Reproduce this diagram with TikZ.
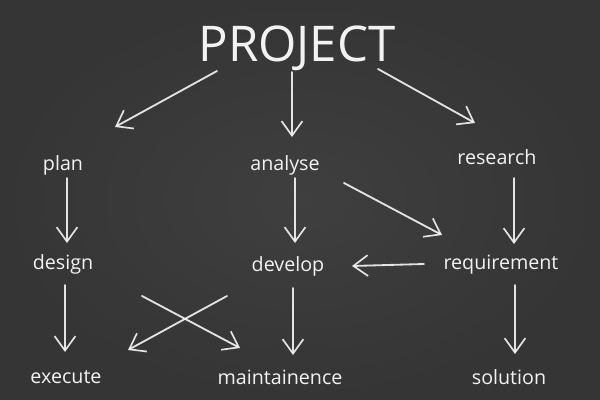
\documentclass[tikz,border=0pt]{standalone}
\usepackage{fontspec}
\setmainfont{Open Sans}
\usetikzlibrary{calc,arrows.meta}
\definecolor{board}{HTML}{3F3F3F}
\definecolor{boardedge}{HTML}{353535}
\definecolor{chalk}{HTML}{F2F2F2}
\tikzset{chalk arrow/.style={draw=chalk,opacity=.92,line width=1.3pt,line cap=round,
    -{Straight Barb[length=3.6mm,width=5.2mm,line width=1.2pt]}},
  title label/.style={text=chalk,anchor=base,inner sep=0pt,font=\fontsize{35}{40}\selectfont},
  word label/.style={text=chalk,anchor=base,inner sep=0pt,font=\fontsize{14}{17}\selectfont}}

\begin{document}
\begin{tikzpicture}[x=0.025cm,y=-0.025cm]
			\useasboundingbox (0,0) rectangle (600,400);
			\shade[inner color=board,outer color=boardedge] (0,0) rectangle (600,400);
			% words
			\node[title label] (project) at (297,62) {PROJECT};
			\node[word label] (plan) at (63,171) {plan};
			\node[word label] (analyse) at (285,171) {analyse};
			\node[word label] (research) at (497,165) {research};
			\node[word label] (design) at (63,270) {design};
			\node[word label] (develop) at (288,272) {develop};
			\node[word label] (requirement) at (501,270) {requirement};
			\node[word label] (execute) at (66,384) {execute};
			\node[word label] (maintainence) at (280,385) {maintainence};
			\node[word label] (solution) at (509,385) {solution};
			% arrows
			\draw[chalk arrow] ($(project.base)+(-80,9)$) -- ($(plan.base)+(52,-44)$);
			\draw[chalk arrow] ($(project.base)+(-5,10)$) -- ($(analyse.base)+(7,-34)$);
			\draw[chalk arrow] ($(project.base)+(81,7)$) -- ($(research.base)+(-22,-42)$);
			\draw[chalk arrow] ($(plan.base)+(4,7)$) -- ($(design.base)+(4,-27)$);
			\draw[chalk arrow] ($(analyse.base)+(10,7)$) -- ($(develop.base)+(7,-29)$);
			\draw[chalk arrow] ($(research.base)+(17,13)$) -- ($(requirement.base)+(13,-26)$);
			\draw[chalk arrow] ($(analyse.base)+(59,12)$) -- ($(requirement.base)+(-59,-35)$);
			\draw[chalk arrow] ($(requirement.base)+(-77,-6)$) -- ($(develop.base)+(64,-6)$);
			\draw[chalk arrow] ($(design.base)+(2,15)$) -- ($(execute.base)+(-1,-32)$);
			\draw[chalk arrow] ($(develop.base)+(-61,24)$) -- ($(execute.base)+(62,-34)$);
			\draw[chalk arrow] ($(design.base)+(79,26)$) -- ($(maintainence.base)+(-40,-37)$);
			\draw[chalk arrow] ($(develop.base)+(5,16)$) -- ($(maintainence.base)+(13,-30)$);
			\draw[chalk arrow] ($(requirement.base)+(14,15)$) -- ($(solution.base)+(6,-31)$);
		\end{tikzpicture}
\end{document}
